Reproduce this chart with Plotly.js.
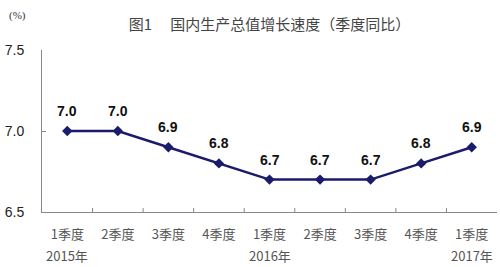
<!DOCTYPE html>
<html><head><meta charset="utf-8">
<script src="https://cdn.plot.ly/plotly-3.0.1.min.js"></script>
<style>html,body{margin:0;padding:0;background:#fff;}#chart{width:500px;height:267px;}</style>
</head><body><div id="chart"></div>
<script>
const quarters = ['1季度','2季度','3季度','4季度','1季度','2季度','3季度','4季度','1季度'];
const years = ['2015年','','','','2016年','','','','2017年'];
const growth = [7.0, 7.0, 6.9, 6.8, 6.7, 6.7, 6.7, 6.8, 6.9];
const yTicks = [6.5, 7.0, 7.5];
const cjk = '"Noto Sans CJK SC", sans-serif';
const arial = 'Arial, "Liberation Sans", sans-serif';
const idx = quarters.map((q,i)=>i);
const trace = {
  x: idx, y: growth, type:'scatter', mode:'lines+markers',
  line:{color:'#1b1b6b', width:2.5},
  marker:{symbol:'diamond', size:8, color:'#1b1b6b'},
  cliponaxis:false, hoverinfo:'none'
};
const valueLabels = growth.map((v,i)=>({x:i, y:v, xref:'x', yref:'y', text:v.toFixed(1), showarrow:false,
  yanchor:'middle', xanchor:'center', yshift:20,
  font:{family:arial, size:14, color:'#111', weight:'bold'}}));
const yearLabels = years.map((t,i)=>t ? ({x:i, y:-(255-212)/162, xref:'x', yref:'paper', text:t, showarrow:false,
  yanchor:'middle', xanchor:'center', font:{family:cjk, size:13, color:'#555'}}) : null).filter(a=>a);
const layout = {
  width:500, height:267, paper_bgcolor:'#fff', plot_bgcolor:'#fff',
  margin:{l:42, r:3, t:50, b:55},
  showlegend:false,
  title:{text:'图1　 国内生产总值增长速度（季度同比）', x:0.5, xref:'paper', xanchor:'center', y:1 - 25/267, yref:'container', yanchor:'middle',
    font:{family:cjk, size:15, color:'#444'}},
  xaxis:{range:[-0.5,8.5], tickvals:idx, ticktext:quarters,
    showgrid:false, zeroline:false, showline:true, linecolor:'#888', linewidth:1,
    ticks:'', ticklabelstandoff:10, tickfont:{family:cjk, size:13, color:'#555'}, fixedrange:true},
  yaxis:{range:[6.5,7.5], tickvals:yTicks, ticktext:yTicks.map(v=>v.toFixed(1)),
    showgrid:false, zeroline:false, showline:true, linecolor:'#888', linewidth:1,
    ticks:'inside', ticklen:4, tickcolor:'#888', ticklabelstandoff:14,
    tickfont:{family:arial, size:14, color:'#222'}},
  shapes: quarters.slice(1).map((q,i)=>({type:'line', xref:'x', yref:'paper', x0:i+0.5, x1:i+0.5, y0:0, y1:0.025, line:{color:'#888', width:1}})),
  annotations:[{text:'(%)', xref:'paper', yref:'paper', x:-0.078, y:1.21, xanchor:'left', yanchor:'middle', showarrow:false,
    font:{family:'"Liberation Serif", serif', size:11, color:'#333'}}].concat(valueLabels, yearLabels)
};
Plotly.newPlot('chart',[trace],layout,{displayModeBar:false, staticPlot:true});
</script></body></html>
